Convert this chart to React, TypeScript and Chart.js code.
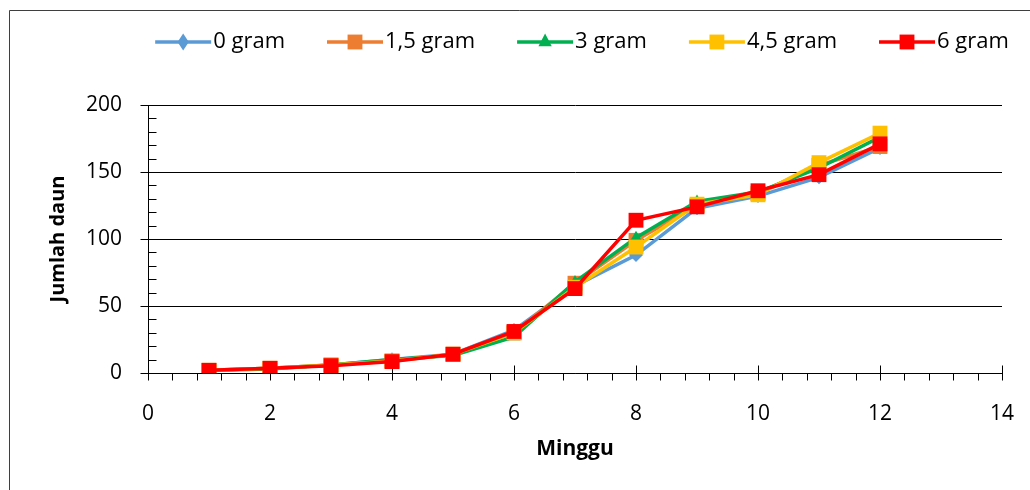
import React, { useEffect, useRef } from 'react';
import { Chart, registerables } from 'chart.js';

Chart.register(...registerables);

const weeks = [1, 2, 3, 4, 5, 6, 7, 8, 9, 10, 11, 12];
const seriesNames = ['0 gram', '1,5 gram', '3 gram', '4,5 gram', '6 gram'];
const gram0 = [2, 3.5, 6, 10, 14, 32, 65, 88, 123, 132, 146, 168];
const gram15 = [2, 3.5, 6, 9, 14, 30, 67, 99, 125, 134, 155, 169];
const gram3 = [2, 3, 6, 10, 13, 27, 68, 101, 128, 135, 153, 176];
const gram45 = [2, 3.5, 6, 9, 14, 30, 64, 94, 126, 133, 157, 179];
const gram6 = [2, 3.5, 5.5, 8.5, 14, 31, 63, 114, 124, 136, 148, 171];
const xTicks = [0, 2, 4, 6, 8, 10, 12, 14];
const yTicks = [0, 50, 100, 150, 200];
const xTitle = 'Minggu';
const yTitle = 'Jumlah daun';

const seriesValues = [gram0, gram15, gram3, gram45, gram6];
const colors = ['#5B9BD5', '#ED7D31', '#00B050', '#FFC000', '#FF0000'];
const markers = ['rectRot', 'rect', 'triangle', 'rect', 'rect'];
const radii = [7, 10.5, 7, 10.5, 10.5];

const FONT = '"Open Sans", "Liberation Sans", sans-serif';

function drawMarker(ctx: CanvasRenderingContext2D, style: string, x: number, y: number, r: number, color: string) {
  ctx.fillStyle = color;
  ctx.beginPath();
  if (style === 'rect') {
    const s = Math.SQRT1_2 * r;
    ctx.rect(x - s, y - s, 2 * s, 2 * s);
  } else if (style === 'rectRot') {
    ctx.moveTo(x, y - r * 1.2);
    ctx.lineTo(x + r * 0.8, y);
    ctx.lineTo(x, y + r * 1.2);
    ctx.lineTo(x - r * 0.8, y);
    ctx.closePath();
  } else if (style === 'triangle') {
    ctx.moveTo(x, y - r * 1.2);
    ctx.lineTo(x + r * 0.95, y + r * 0.6);
    ctx.lineTo(x - r * 0.95, y + r * 0.6);
    ctx.closePath();
  }
  ctx.fill();
}

const framePlugin = {
  id: 'frame',
  beforeDraw(chart: any) {
    const ctx = chart.ctx as CanvasRenderingContext2D;
    ctx.save();
    ctx.strokeStyle = '#3f3f3f';
    ctx.lineWidth = 1;
    ctx.beginPath();
    ctx.moveTo(9.5, chart.height);
    ctx.lineTo(9.5, 10.5);
    ctx.lineTo(chart.width, 10.5);
    ctx.stroke();
    ctx.restore();
  },
};

const tickPlugin = {
  id: 'tickMarks',
  beforeDatasetsDraw(chart: any) {
    const ctx = chart.ctx as CanvasRenderingContext2D;
    const xs = chart.scales.x;
    const ys = chart.scales.y;
    const x0 = Math.round(xs.getPixelForValue(xTicks[0])) + 0.5;
    const y0 = Math.round(ys.getPixelForValue(yTicks[0])) + 0.5;
    ctx.save();
    ctx.strokeStyle = '#000';
    ctx.lineWidth = 1;
    ctx.beginPath();
    const yMax = yTicks[yTicks.length - 1];
    for (let v = 0; v <= yMax + 1e-6; v += 10) {
      const py = Math.round(ys.getPixelForValue(v)) + 0.5;
      const major = Math.abs(v % 50) < 1e-6;
      ctx.moveTo(major ? x0 - 8 : x0, py);
      ctx.lineTo(x0 + 8, py);
    }
    const xMax = xTicks[xTicks.length - 1];
    for (let i = 0; i <= Math.round(xMax / 0.4); i++) {
      const v = i * 0.4;
      const px = Math.round(xs.getPixelForValue(v)) + 0.5;
      const major = i % 5 === 0;
      ctx.moveTo(px, major ? y0 - 8 : y0);
      ctx.lineTo(px, y0 + 7);
    }
    ctx.stroke();
    ctx.restore();
  },
};

const legendPlugin = {
  id: 'customLegend',
  afterDraw(chart: any) {
    const ctx = chart.ctx as CanvasRenderingContext2D;
    ctx.save();
    ctx.font = `22px ${FONT}`;
    const lineLen = 56;
    const gap = 2;
    const itemGap = 42;
    const widths = seriesNames.map((n) => ctx.measureText(n).width);
    const total = widths.reduce((s, w) => s + lineLen + gap + w, 0) + itemGap * (seriesNames.length - 1);
    let x = 582 - total / 2;
    const y = 42;
    seriesNames.forEach((name, i) => {
      ctx.strokeStyle = colors[i];
      ctx.lineWidth = 3.5;
      ctx.beginPath();
      ctx.moveTo(x, y);
      ctx.lineTo(x + lineLen, y);
      ctx.stroke();
      drawMarker(ctx, markers[i], x + lineLen / 2, y, radii[i], colors[i]);
      ctx.fillStyle = '#000';
      ctx.textBaseline = 'middle';
      ctx.textAlign = 'left';
      ctx.fillText(name, x + lineLen + gap, y);
      x += lineLen + gap + widths[i] + itemGap;
    });
    ctx.restore();
  },
};

export default function App() {
  const canvasRef = useRef<HTMLCanvasElement | null>(null);

  useEffect(() => {
    if (!canvasRef.current) return;
    const datasets = seriesNames.map((name, i) => ({
      label: name,
      data: weeks.map((w, j) => ({ x: w, y: seriesValues[i][j] })),
      borderColor: colors[i],
      backgroundColor: colors[i],
      borderWidth: 3.5,
      pointStyle: markers[i] as any,
      pointRadius: radii[i],
      pointHoverRadius: radii[i],
      pointBorderWidth: 0,
      pointBackgroundColor: colors[i],
      tension: 0,
      order: seriesNames.length - i,
    }));

    const chart = new Chart(canvasRef.current, {
      type: 'line',
      data: { datasets },
      plugins: [framePlugin, tickPlugin, legendPlugin],
      options: {
        animation: false,
        responsive: true,
        maintainAspectRatio: false,
        events: [],
        layout: { padding: { top: 105, right: 28, bottom: 0, left: 0 } },
        plugins: {
          legend: { display: false },
          tooltip: { enabled: false },
        },
        scales: {
          x: {
            type: 'linear',
            min: xTicks[0],
            max: xTicks[xTicks.length - 1],
            afterBuildTicks: (scale: any) => {
              scale.ticks = xTicks.map((v) => ({ value: v }));
            },
            afterFit: (scale: any) => {
              scale.height = 117;
              scale.paddingLeft = 0;
              scale.paddingRight = 0;
            },
            ticks: {
              color: '#000',
              font: { family: FONT, size: 21 },
              padding: 20,
              maxRotation: 0,
            },
            grid: { display: false },
            border: { display: true, color: '#000', width: 1 },
            title: {
              display: true,
              text: xTitle,
              color: '#000',
              font: { family: FONT, size: 21, weight: 'bold' },
              padding: { top: 0, bottom: 28 },
            },
          },
          y: {
            type: 'linear',
            min: yTicks[0],
            max: yTicks[yTicks.length - 1],
            afterBuildTicks: (scale: any) => {
              scale.ticks = yTicks.map((v) => ({ value: v }));
            },
            afterFit: (scale: any) => {
              scale.width = 148;
              scale.paddingTop = 0;
              scale.paddingBottom = 0;
            },
            ticks: {
              color: '#000',
              font: { family: FONT, size: 21 },
              padding: 26,
            },
            grid: { color: '#000', lineWidth: 1, drawTicks: false },
            border: { display: true, color: '#000', width: 1 },
            title: {
              display: true,
              text: yTitle,
              color: '#000',
              font: { family: FONT, size: 20, weight: 'bold' },
              padding: { top: 46, bottom: 0 },
            },
          },
        },
      },
    });
    return () => chart.destroy();
  }, []);

  return (
    <div style={{ position: 'absolute', left: 0, top: 0, width: 1030, height: 490, background: '#fff' }}>
      <canvas ref={canvasRef} />
    </div>
  );
}
